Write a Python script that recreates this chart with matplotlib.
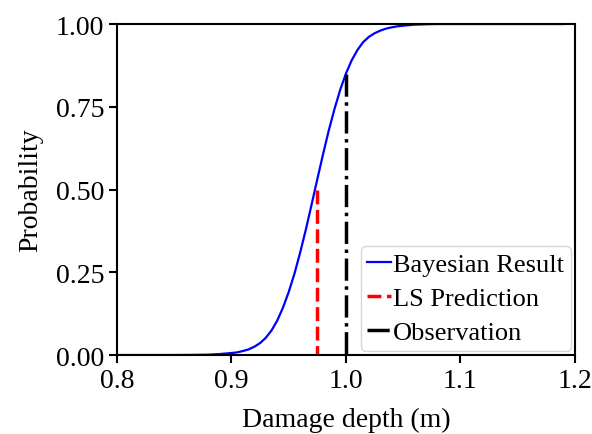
import matplotlib
matplotlib.use("Agg")
import matplotlib.pyplot as plt

plt.rcParams['font.family'] = ['Liberation Serif', 'DejaVu Serif']

# Bayesian result CDF
depth = [0.80, 0.85, 0.87, 0.88, 0.89, 0.900, 0.905, 0.910, 0.915, 0.920, 0.925, 0.930,
         0.935, 0.940, 0.945, 0.950, 0.955, 0.960, 0.965, 0.970, 0.975, 0.980,
         0.985, 0.990, 0.995, 1.000, 1.005, 1.010, 1.015, 1.020, 1.025, 1.030,
         1.035, 1.040, 1.045, 1.050, 1.060, 1.070, 1.080, 1.10, 1.15, 1.19]
prob = [0.0, 0.0, 0.0005, 0.001, 0.003, 0.006, 0.008, 0.012, 0.017, 0.025, 0.036,
        0.052, 0.074, 0.104, 0.143, 0.190, 0.245, 0.309, 0.379, 0.454, 0.531,
        0.606, 0.678, 0.743, 0.801, 0.850, 0.890, 0.921, 0.945, 0.961, 0.972,
        0.980, 0.986, 0.990, 0.993, 0.995, 0.998, 0.9993, 1.0, 1.0, 1.0, 1.0]

ls_x = [0.975, 0.975]
ls_y = [0.5, 0.0]
obs_x = [1.0, 1.0]
obs_y = [0.85, 0.0]

xticks = [0.8, 0.9, 1.0, 1.1, 1.2]
yticks = [0.0, 0.25, 0.5, 0.75, 1.0]

fig = plt.figure(figsize=(5.92, 4.35), dpi=100)
ax = fig.add_axes([0.1976, 0.1816, 0.7734, 0.7609])

ax.plot(depth, prob, color='blue', lw=1.6, label='Bayesian Result')
ax.plot(ls_x, ls_y, color='red', lw=2.5, ls=(0, (4.0, 1.6)), label='LS Prediction')
ax.plot(obs_x, obs_y, color='black', lw=2.5, ls='-.', label='Observation')

ax.set_xlim(0.8, 1.2)
ax.set_ylim(0.0, 1.0)
ax.set_xticks(xticks)
ax.set_xticklabels([f"{t:.1f}" for t in xticks])
ax.set_yticks(yticks)
ax.set_yticklabels([f"{t:.2f}" for t in yticks])
ax.tick_params(labelsize=20, width=1.5, length=6, pad=3)
for s in ax.spines.values():
    s.set_linewidth(1.5)

ax.set_xlabel('Damage depth (m)', fontsize=20, labelpad=10)
ax.set_ylabel('Probability', fontsize=20, labelpad=9)

leg = ax.legend(loc='lower right', fontsize=19, handlelength=0.9,
                handletextpad=0.08, borderpad=0.25, labelspacing=0.4,
                borderaxespad=0.15, framealpha=0.8)

fig.savefig('out.png', dpi=100)
